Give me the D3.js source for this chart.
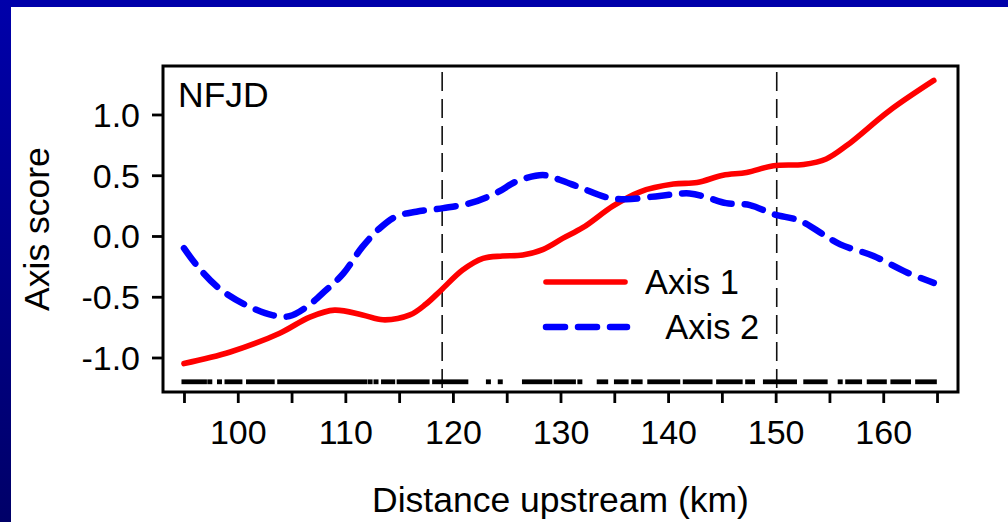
<!DOCTYPE html>
<html>
<head>
<meta charset="utf-8">
<script src="https://cdn.jsdelivr.net/npm/d3@7"></script>
<style>
  body { margin: 0; background: #fff; }
  svg { display: block; font-family: Arial, "Liberation Sans", sans-serif; }
  text { white-space: pre; }
</style>
</head>
<body>
<div id="chart"></div>
<script>
// values (km upstream, axis score)
var axis1Km  = [95, 99.3, 103.9, 106.7, 109.0, 111.6, 113.5, 116.0, 117.5, 118.9, 120.9, 122.8, 124.6, 126.5, 128.4, 130.2, 132.1, 134.9, 137.4, 140.5, 142.7, 145.1, 147.3, 149.8, 152.6, 154.7, 156.6, 160.6, 164.7];
var axis1Val = [-1.05, -0.955, -0.80, -0.667, -0.61, -0.65, -0.69, -0.65, -0.56, -0.446, -0.28, -0.184, -0.165, -0.157, -0.11, -0.02, 0.07, 0.248, 0.364, 0.427, 0.44, 0.50, 0.523, 0.578, 0.589, 0.634, 0.744, 1.033, 1.28];

var axis2Km  = [95, 96.3, 98.3, 100.8, 103.3, 104.8, 106.4, 108.2, 109.8, 111.6, 113.2, 114.7, 116.6, 119.1, 121.6, 124.0, 125.9, 127.7, 128.6, 129.9, 131.8, 134.3, 136.1, 139.2, 142.0, 143.6, 145.4, 147.6, 149.8, 152.3, 154.4, 156.0, 159.1, 162.2, 164.7];
var axis2Val = [-0.10, -0.254, -0.433, -0.57, -0.653, -0.66, -0.584, -0.446, -0.31, -0.088, 0.064, 0.16, 0.20, 0.229, 0.27, 0.353, 0.449, 0.496, 0.50, 0.463, 0.40, 0.318, 0.303, 0.33, 0.35, 0.318, 0.27, 0.254, 0.18, 0.124, 0.014, -0.069, -0.165, -0.30, -0.386];

// sampled sites shown as a rug (runs of km)
var rugStart = [95.0, 97.4, 98.3, 99.0, 101.0, 103.9, 112.3, 112.85, 113.55, 115.0, 118.3, 123.3, 124.4, 126.65, 129.6, 131.8, 133.6, 135.2, 136.8, 138.3, 141.6, 144.7, 147.4, 149.05, 152.8, 156.0, 156.7, 158.7, 160.9, 163.2];
var rugEnd   = [96.9, 97.4, 98.3, 100.2, 103.2, 111.8, 112.3, 112.85, 114.4, 117.6, 121.2, 123.3, 124.4, 129.0, 131.2, 131.8, 134.2, 136.1, 137.4, 140.9, 143.9, 146.7, 147.85, 151.75, 154.6, 156.0, 157.8, 160.1, 162.35, 164.75];

var breakKm = [119, 150.1];
var xTicks = [95, 100, 105, 110, 115, 120, 125, 130, 135, 140, 145, 150, 155, 160, 165];
var xLabels = [100, 110, 120, 130, 140, 150, 160];
var yTicks = [-1.0, -0.5, 0.0, 0.5, 1.0];
var seriesNames = ["Axis 1", "  Axis 2"];

var width = 1008, height = 522;
var box = {left: 163, top: 66, right: 958, bottom: 392};

var svg = d3.select("#chart").append("svg").attr("width", width).attr("height", height);

// slide frame
var defs = svg.append("defs");
var grad = defs.append("linearGradient").attr("id", "sidebar")
    .attr("x1", 0).attr("y1", 0).attr("x2", 0).attr("y2", 1);
grad.append("stop").attr("offset", "0%").attr("stop-color", "#0000aa");
grad.append("stop").attr("offset", "100%").attr("stop-color", "#000068");
svg.append("rect").attr("x", 0).attr("y", 0).attr("width", width).attr("height", 7).attr("fill", "#0000aa");
svg.append("rect").attr("x", 0).attr("y", 0).attr("width", 11).attr("height", height).attr("fill", "url(#sidebar)");

var x = d3.scaleLinear().domain([93.05, 166.95]).range([box.left, box.right]);
var y = d3.scaleLinear().domain([-1.284, 1.399]).range([box.bottom, box.top]);

// vertical reference lines
svg.append("g").selectAll("line")
    .data(breakKm)
  .enter().append("line")
    .attr("x1", function(d) { return x(d); })
    .attr("x2", function(d) { return x(d); })
    .attr("y1", 72)
    .attr("y2", box.bottom)
    .attr("stroke", "#111")
    .attr("stroke-width", 1.6)
    .attr("stroke-dasharray", "19,8");

// rug
svg.append("g").selectAll("rect")
    .data(d3.range(rugStart.length))
  .enter().append("rect")
    .attr("x", function(i) { return x(rugStart[i]) - 2.5; })
    .attr("width", function(i) { return x(rugEnd[i]) - x(rugStart[i]) + 5; })
    .attr("y", y(-1.2) - 2.4)
    .attr("height", 4.8)
    .attr("fill", "#000");

var line = d3.line()
    .x(function(d) { return x(d[0]); })
    .y(function(d) { return y(d[1]); })
    .curve(d3.curveCatmullRom.alpha(0.5));

svg.append("path")
    .datum(d3.zip(axis1Km, axis1Val))
    .attr("d", line)
    .attr("fill", "none")
    .attr("stroke", "#ff0000")
    .attr("stroke-width", 5.6)
    .attr("stroke-linecap", "round")
    .attr("stroke-linejoin", "round");

svg.append("path")
    .datum(d3.zip(axis2Km, axis2Val))
    .attr("d", line)
    .attr("fill", "none")
    .attr("stroke", "#0000ff")
    .attr("stroke-width", 6.5)
    .attr("stroke-linecap", "round")
    .attr("stroke-dasharray", "19,13");

// axes
var xAxis = svg.append("g").attr("transform", "translate(0," + (box.bottom + 1) + ")")
    .call(d3.axisBottom(x).tickValues(xTicks).tickSize(10)
      .tickFormat(function(d) { return xLabels.indexOf(d) >= 0 ? d : ""; }));
xAxis.select(".domain").remove();
xAxis.selectAll(".tick line").attr("stroke", "#000").attr("stroke-width", 2.8);
xAxis.selectAll(".tick text").attr("font-size", 34).attr("font-family", null)
    .attr("fill", "#000").attr("y", 51).attr("dy", 0);

var yAxis = svg.append("g").attr("transform", "translate(" + (box.left - 1) + ",0)")
    .call(d3.axisLeft(y).tickValues(yTicks).tickSize(10).tickFormat(d3.format(".1f")));
yAxis.select(".domain").remove();
yAxis.selectAll(".tick line").attr("stroke", "#000").attr("stroke-width", 2.8);
yAxis.selectAll(".tick text").attr("font-size", 34).attr("font-family", null)
    .attr("fill", "#000").attr("x", -22).attr("dy", "0.35em")
    .text(function(d) { return d3.format(".1f")(d).replace("\u2212", "-"); });

// plot frame
svg.append("rect")
    .attr("x", box.left).attr("y", box.top)
    .attr("width", box.right - box.left).attr("height", box.bottom - box.top)
    .attr("fill", "none").attr("stroke", "#000").attr("stroke-width", 3);

svg.append("text").attr("x", 178).attr("y", 107)
    .attr("font-size", 35.5).text("NFJD");

svg.append("text")
    .attr("transform", "translate(49," + ((box.top + box.bottom) / 2) + ") rotate(-90)")
    .attr("text-anchor", "middle").attr("font-size", 35.5).text("Axis score");

svg.append("text")
    .attr("x", (box.left + box.right) / 2).attr("y", 512)
    .attr("text-anchor", "middle").attr("font-size", 35.5).text("Distance upstream (km)");

// legend
var legend = svg.append("g").attr("transform", "translate(546,282)");
var rows = legend.selectAll("g")
    .data(seriesNames)
  .enter().append("g")
    .attr("transform", function(d, i) { return "translate(0," + (i * 45) + ")"; });
rows.append("line")
    .attr("x1", 0).attr("x2", function(d, i) { return i ? 81 : 79; })
    .attr("stroke", function(d, i) { return i ? "#0000ff" : "#ff0000"; })
    .attr("stroke-width", function(d, i) { return i ? 6.5 : 5.6; })
    .attr("stroke-linecap", "round")
    .attr("stroke-dasharray", function(d, i) { return i ? "19,13" : null; });
rows.append("text")
    .attr("x", function(d, i) { return i ? 102 : 99; }).attr("y", 12)
    .attr("font-size", 34.5)
    .text(function(d) { return d; });
</script>
</body>
</html>
